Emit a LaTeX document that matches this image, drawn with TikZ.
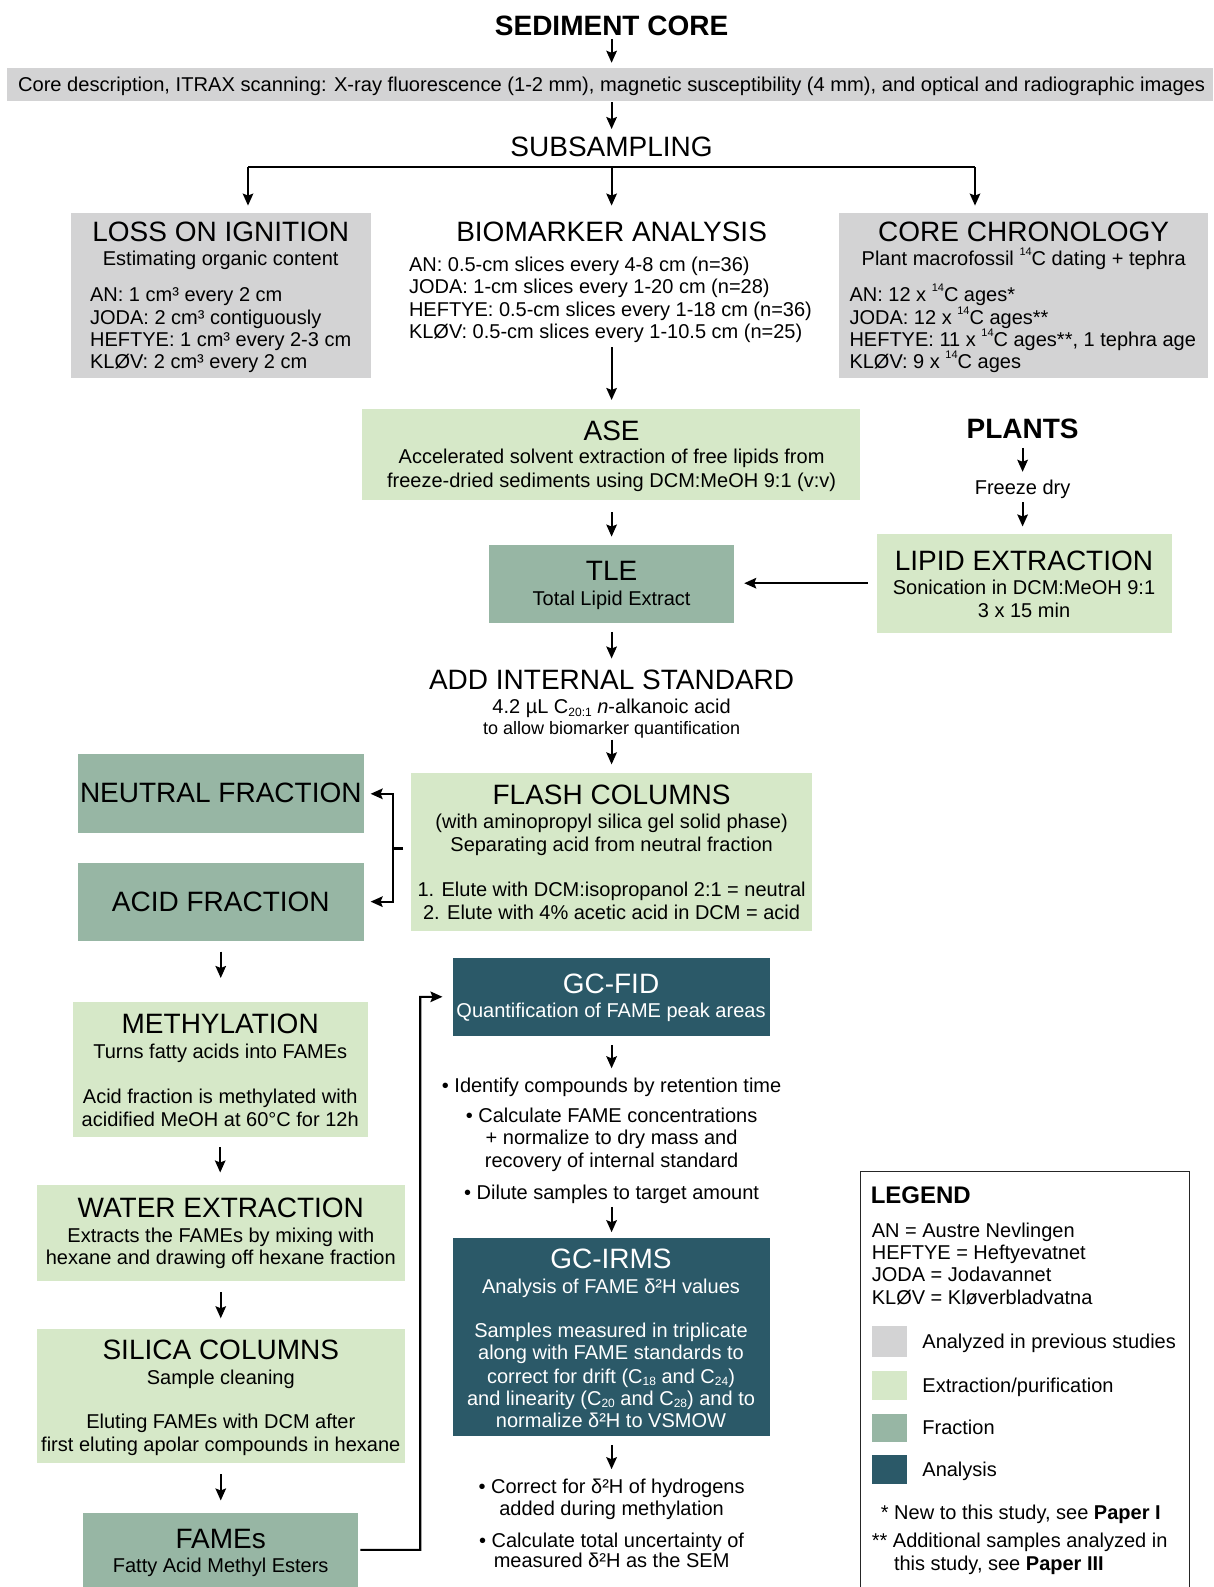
\documentclass[tikz,border=0pt]{standalone}
\usepackage{fontspec}
\setmainfont{Liberation Sans}
\usepackage{graphicx}
\usetikzlibrary{arrows.meta}
\definecolor{cgray}{RGB}{211,211,212}
\definecolor{cext}{RGB}{214,232,200}
\definecolor{cfrac}{RGB}{151,182,164}
\definecolor{cana}{RGB}{43,89,104}
\newcommand\sups[1]{\raisebox{0.5em}{\fontsize{11}{11}\selectfont #1}}
\newcommand\subs[1]{\raisebox{-0.12em}{\fontsize{12}{12}\selectfont #1}}
\newcommand\bx[6]{\node[fill=#2, inner sep=0, outer sep=0, minimum width={(#5-#3)*1pt}, minimum height={(#6-#4)*1pt}, anchor=north west] (#1) at (#3,#4) {};}
\newcommand\tx[5][]{\node[txt,#1] (#2) at (#3,#4) {#5};}
\tikzset{
  txt/.style={anchor=base, inner sep=0, outer sep=0, font=\fontsize{20}{24}\selectfont},
  ttl/.style={font=\fontsize{28}{32}\selectfont},
  bttl/.style={font=\fontsize{28}{32}\selectfont\bfseries},
  lt/.style={anchor=base west},
  wt/.style={text=white},
  arr/.style={line width=2.1pt, -{Stealth[length=12pt,width=10.5pt,inset=2pt]}},
  ln/.style={line width=2.1pt},
}
\begin{document}
\begin{tikzpicture}[x=1pt,y=-1pt]
\path[use as bounding box, fill=white] (0,0) rectangle (1213,1587);

% top
\tx[bttl]{sed}{611.6}{35.3}{SEDIMENT CORE}
\bx{bar}{cgray}{7.1}{67.8}{1213}{101.3}
\tx{bart}{611.6}{91}{\resizebox{1187pt}{\height}{Core description, ITRAX scanning: X-ray fluorescence (1-2 mm), magnetic susceptibility (4 mm), and optical and radiographic images}}
\tx[ttl]{subs}{611.6}{156.8}{SUBSAMPLING}

% three columns
\bx{loi}{cgray}{70.9}{212.6}{370.6}{377.7}
\tx[ttl]{loi0}{220.7}{241}{LOSS ON IGNITION}
\tx{loi1}{220.7}{265.4}{Estimating organic content}
\tx[lt]{loi2}{90.1}{301.8}{AN: 1 cm³ every 2 cm}
\tx[lt]{loi3}{90.1}{324.1}{JODA: 2 cm³ contiguously}
\tx[lt]{loi4}{90.1}{346.4}{HEFTYE: 1 cm³ every 2-3 cm}
\tx[lt]{loi5}{90.1}{368.7}{KLØV: 2 cm³ every 2 cm}

\tx[ttl]{bio0}{611.6}{241}{BIOMARKER ANALYSIS}
\tx[lt]{bio1}{409}{271.5}{AN: 0.5-cm slices every 4-8 cm (n=36)}
\tx[lt]{bio2}{409}{293.7}{JODA: 1-cm slices every 1-20 cm (n=28)}
\tx[lt]{bio3}{409}{316}{HEFTYE: 0.5-cm slices every 1-18 cm (n=36)}
\tx[lt]{bio4}{409}{338.3}{KLØV: 0.5-cm slices every 1-10.5 cm (n=25)}

\bx{chr}{cgray}{839.4}{212.6}{1208}{377.7}
\tx[ttl]{chr0}{1023.7}{241}{CORE CHRONOLOGY}
\tx{chr1}{1023.7}{265.4}{Plant macrofossil \sups{14}C dating + tephra}
\tx[lt]{chr2}{849.5}{301.8}{AN: 12 x \sups{14}C ages*}
\tx[lt]{chr3}{849.5}{324.1}{JODA: 12 x \sups{14}C ages**}
\tx[lt]{chr4}{849.5}{346.4}{HEFTYE: 11 x \sups{14}C ages**, 1 tephra age}
\tx[lt]{chr5}{849.5}{368.7}{KLØV: 9 x \sups{14}C ages}

% ASE
\bx{ase}{cext}{361.5}{409}{859.6}{500.2}
\tx[ttl]{ase0}{611.6}{440.3}{ASE}
\tx{ase1}{611.6}{463.8}{Accelerated solvent extraction of free lipids from}
\tx{ase2}{611.6}{487.1}{freeze-dried sediments using DCM:MeOH 9:1 (v:v)}

% plants
\tx[bttl]{plants}{1022.6}{438.3}{PLANTS}
\tx{freeze}{1022.6}{494.2}{Freeze dry}
\bx{lip}{cext}{876.8}{533.6}{1171.5}{632.8}
\tx[ttl]{lip0}{1024}{570.9}{LIPID EXTRACTION}
\tx{lip1}{1024}{594.5}{Sonication in DCM:MeOH 9:1}
\tx{lip2}{1024}{617.7}{3 x 15 min}

% TLE
\bx{tle}{cfrac}{489}{544.7}{734}{622.7}
\tx[ttl]{tle0}{611.6}{580}{TLE}
\tx{tle1}{611.6}{605.6}{Total Lipid Extract}

% add internal standard
\tx[ttl]{add0}{611.6}{689.4}{ADD INTERNAL STANDARD}
\tx{add1}{611.6}{713.9}{4.2 µL C\subs{20:1} \textit{n}-alkanoic acid}
\tx[font=\fontsize{18}{20}\selectfont]{add2}{611.6}{734.5}{to allow biomarker quantification}

% flash
\bx{flash}{cext}{411}{772.5}{812}{930.5}
\tx[ttl]{fl0}{611.6}{804.8}{FLASH COLUMNS}
\tx{fl1}{611.6}{828.3}{(with aminopropyl silica gel solid phase)}
\tx{fl2}{611.6}{851.6}{Separating acid from neutral fraction}
\tx{fl3}{611.6}{896.2}{1. Elute with DCM:isopropanol 2:1 = neutral}
\tx{fl4}{611.6}{919.5}{2. Elute with 4\% acetic acid in DCM = acid}

\bx{neu}{cfrac}{78}{754.3}{363.5}{833.3}
\tx[ttl]{neu0}{220.8}{802.8}{NEUTRAL FRACTION}
\bx{acid}{cfrac}{78}{862.7}{363.5}{940.6}
\tx[ttl]{acid0}{220.8}{911.1}{ACID FRACTION}

% left column
\bx{meth}{cext}{72.9}{1002.4}{367.5}{1137}
\tx[ttl]{me0}{220.2}{1033.6}{METHYLATION}
\tx{me1}{220.2}{1058.2}{Turns fatty acids into FAMEs}
\tx{me2}{220.2}{1103.7}{Acid fraction is methylated with}
\tx{me3}{220.2}{1126}{acidified MeOH at 60°C for 12h}

\bx{water}{cext}{36.5}{1184.6}{405}{1280.8}
\tx[ttl]{wa0}{220.8}{1217.9}{WATER EXTRACTION}
\tx{wa1}{220.8}{1242.5}{Extracts the FAMEs by mixing with}
\tx{wa2}{220.8}{1264.7}{hexane and drawing off hexane fraction}

\bx{sil}{cext}{36.5}{1329.4}{405}{1463}
\tx[ttl]{si0}{220.8}{1359.7}{SILICA COLUMNS}
\tx{si1}{220.8}{1384.2}{Sample cleaning}
\tx{si2}{220.8}{1428.8}{Eluting FAMEs with DCM after}
\tx{si3}{220.8}{1451}{first eluting apolar compounds in hexane}

\bx{fames}{cfrac}{83}{1512.7}{358.4}{1587}
\tx[ttl]{fa0}{220.7}{1548}{FAMEs}
\tx{fa1}{220.7}{1572.5}{Fatty Acid Methyl Esters}

% analysis column
\bx{gcfid}{cana}{452.6}{957.8}{769.5}{1035.8}
\tx[ttl,wt]{gf0}{611}{993.1}{GC-FID}
\tx[wt]{gf1}{611}{1017.7}{Quantification of FAME peak areas}

\tx{b1}{611.6}{1092.6}{• Identify compounds by retention time}
\tx{b2}{611.6}{1122}{• Calculate FAME concentrations}
\tx{b3}{611.6}{1144.2}{+ normalize to dry mass and}
\tx{b4}{611.6}{1167.5}{recovery of internal standard}
\tx{b5}{611.6}{1199.9}{• Dilute samples to target amount}

\bx{gcirms}{cana}{452.6}{1238.3}{769.5}{1435.7}
\tx[ttl,wt]{gi0}{611}{1268.5}{GC-IRMS}
\tx[wt]{gi1}{611}{1293.1}{Analysis of FAME δ²H values}
\tx[wt]{gi2}{611}{1337.6}{Samples measured in triplicate}
\tx[wt]{gi3}{611}{1359.9}{along with FAME standards to}
\tx[wt]{gi4}{611}{1383.2}{correct for drift (C\subs{18} and C\subs{24})}
\tx[wt]{gi5}{611}{1405.5}{and linearity (C\subs{20} and C\subs{28}) and to}
\tx[wt]{gi6}{611}{1427.7}{normalize δ²H to VSMOW}

\tx{c1}{611.6}{1493.6}{• Correct for δ²H of hydrogens}
\tx{c2}{611.6}{1515.8}{added during methylation}
\tx{c3}{611.6}{1547.2}{• Calculate total uncertainty of}
\tx{c4}{611.6}{1567.5}{measured δ²H as the SEM}

% legend
\node[draw=black!85, line width=1.2pt, inner sep=0, minimum width=329.1pt, minimum height=440pt, anchor=north west] (leg) at (859.6,1170.5) {};
\tx[lt,font=\fontsize{24}{28}\selectfont\bfseries]{lg0}{870.8}{1203.4}{LEGEND}
\tx[lt]{lg1}{871.8}{1237.4}{AN = Austre Nevlingen}
\tx[lt]{lg2}{871.8}{1259.7}{HEFTYE = Heftyevatnet}
\tx[lt]{lg3}{871.8}{1281.9}{JODA = Jodavannet}
\tx[lt]{lg4}{871.8}{1304.2}{KLØV = Kløverbladvatna}
\bx{sw1}{cgray}{871.8}{1326.4}{907.2}{1356.8}
\bx{sw2}{cext}{871.8}{1370.9}{907.2}{1400.3}
\bx{sw3}{cfrac}{871.8}{1413.5}{907.2}{1441.8}
\bx{sw4}{cana}{871.8}{1455}{907.2}{1484.3}
\tx[lt]{sl1}{922.4}{1348.8}{Analyzed in previous studies}
\tx[lt]{sl2}{922.4}{1392.3}{Extraction/purification}
\tx[lt]{sl3}{922.4}{1434.8}{Fraction}
\tx[lt]{sl4}{922.4}{1476.3}{Analysis}
\tx[lt]{n1}{880.9}{1519.9}{* New to this study, see \textbf{Paper I}}
\tx[lt]{n2}{871.8}{1547.2}{** Additional samples analyzed in}
\tx[lt]{n3}{894}{1570.5}{this study, see \textbf{Paper III}}

% connectors
\draw[arr, shorten <=3.2pt, shorten >=5pt] (sed.south) -- (sed.south |- bar.north);
\draw[arr, shorten <=1pt, shorten >=8.2pt] (subs.north |- bar.south) -- (subs.north);
\coordinate (jL) at (248,167);
\coordinate (jM) at (611.6,167);
\coordinate (jR) at (975,167);
\draw[ln] (jL) -- (jR);
\draw[arr, shorten >=7pt] (jL) -- (jL |- loi.north);
\draw[arr, shorten >=7pt] (jM) -- (jM |- loi.north);
\draw[arr, shorten >=7pt] (jR) -- (jR |- chr.north);
\draw[arr, shorten <=4.8pt, shorten >=9pt] (jM |- bio4.south) -- (jM |- ase.north);
\draw[arr, shorten <=12.1pt, shorten >=8.1pt] (jM |- ase.south) -- (jM |- tle.north);
\draw[arr, shorten <=9.2pt, shorten >=7.9pt] (plants.south) -- (freeze.north);
\draw[arr, shorten <=3.8pt, shorten >=7.1pt] (freeze.south) -- (freeze.south |- lip.north);
\draw[arr, shorten <=9.1pt, shorten >=10.2pt] (lip.west) -- (lip.west -| tle.east);
\draw[arr, shorten <=9.1pt, shorten >=11.3pt] (jM |- tle.south) -- (add0.north);
\draw[arr, shorten <=1.4pt, shorten >=8.1pt] (add2.south) -- (add2.south |- flash.north);
\coordinate (bj) at (392.9,848.5);
\draw[ln, shorten <=8pt] (flash.west |- bj) -- (bj);
\draw[arr, shorten >=7.1pt] (bj) |- (neu.east);
\draw[arr, shorten >=7.1pt] (bj) |- (acid.east);
\draw[arr, shorten <=11.1pt, shorten >=24.4pt] (acid.south) -- (acid.south |- meth.north);
\draw[arr, shorten <=10.2pt, shorten >=12.1pt] (meth.south) -- (meth.south |- water.north);
\draw[arr, shorten <=11.2pt, shorten >=11.1pt] (water.south) -- (water.south |- sil.north);
\draw[arr, shorten <=11.2pt, shorten >=12.2pt] (sil.south) -- (sil.south |- fames.north);
\coordinate (jF) at (420.2,1549.9);
\draw[arr, shorten <=2pt, shorten >=10.1pt] (fames.east) -- (jF) |- (gcfid.west);
\draw[arr, shorten <=9.1pt, shorten >=9.8pt] (jM |- gcfid.south) -- (jM |- b1.north);
\draw[arr, shorten <=2.8pt, shorten >=6.1pt] (b5.south) -- (b5.south |- gcirms.north);
\draw[arr, shorten <=9.1pt, shorten >=9.9pt] (jM |- gcirms.south) -- (jM |- c1.north);
\end{tikzpicture}
\end{document}
